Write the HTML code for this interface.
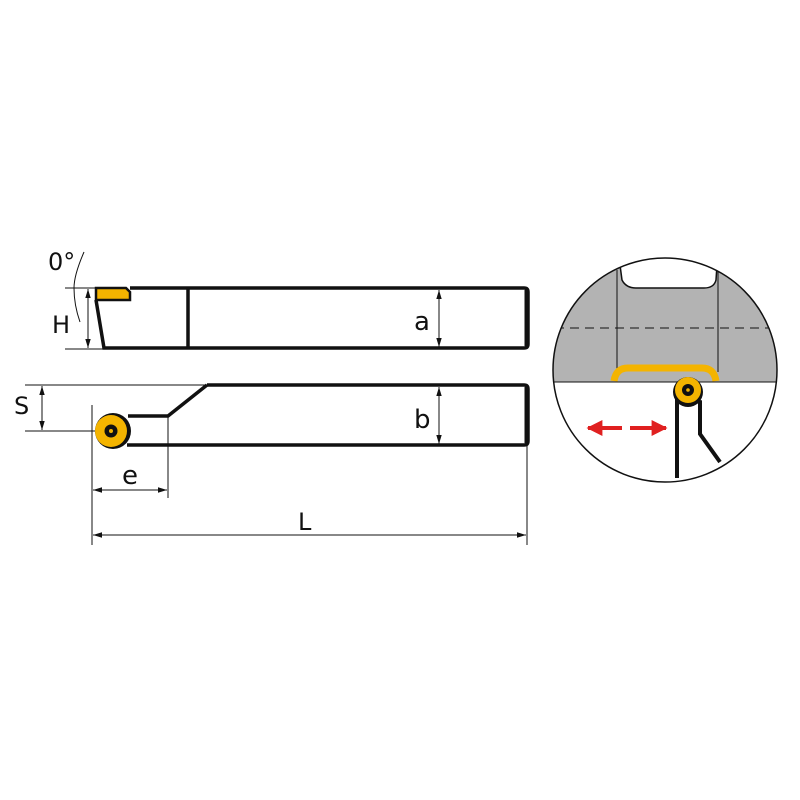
<!DOCTYPE html>
<html><head><style>body{margin:0;background:#fff}svg{display:block}text{font-family:"DejaVu Sans","Liberation Sans",sans-serif;fill:#111}</style></head><body>
<svg width="800" height="800" viewBox="0 0 800 800" xmlns="http://www.w3.org/2000/svg">
<defs>
<marker id="ar" viewBox="0 0 10 10" refX="10" refY="5" markerWidth="9" markerHeight="9" orient="auto-start-reverse"><path d="M0,2 L10,5 L0,8 z" fill="#111"/></marker>
<marker id="rr" viewBox="0 0 10 10" refX="9" refY="5" markerWidth="4" markerHeight="4" orient="auto-start-reverse"><path d="M0,0 L10,5 L0,10 z" fill="#e02020"/></marker>
<clipPath id="cc"><circle cx="665" cy="370" r="112"/></clipPath>
</defs>
<!-- top view -->
<g stroke="#111" fill="none">
<path d="M130,288 H524 Q528,288 528,292 V344 Q528,348 524,348 H104 L96,300" stroke-width="3.5"/>
<line x1="527" y1="290" x2="527" y2="346" stroke-width="5"/>
<line x1="188" y1="288" x2="188" y2="348" stroke-width="3.5"/>
<path d="M96,288 H126 L130,292 V300 H96 Z" fill="#f4b400" stroke-width="2.5"/>
<line x1="65" y1="288" x2="96" y2="288" stroke-width="1"/>
<line x1="65" y1="349" x2="104" y2="349" stroke-width="1"/>
<line x1="88" y1="289" x2="88" y2="348" stroke-width="1" marker-start="url(#ar)" marker-end="url(#ar)"/>
<path d="M84,252 Q74,275 74,288" stroke-width="1"/>
<path d="M74,288 Q74,305 80,322" stroke-width="1"/>
<line x1="439" y1="290" x2="439" y2="347" stroke-width="1" marker-start="url(#ar)" marker-end="url(#ar)"/>
</g>
<!-- bottom view -->
<g stroke="#111" fill="none">
<path d="M207,385 H524 Q528,385 528,389 V441 Q528,445 524,445 H127" stroke-width="3.5"/>
<line x1="527" y1="387" x2="527" y2="443" stroke-width="5"/>
<path d="M207,385 L168,416 H128" stroke-width="3.5"/>
<line x1="25" y1="385" x2="207" y2="385" stroke-width="1"/>
<line x1="25" y1="431" x2="100" y2="431" stroke-width="1"/>
<line x1="42" y1="386" x2="42" y2="430" stroke-width="1" marker-start="url(#ar)" marker-end="url(#ar)"/>
<line x1="439" y1="387" x2="439" y2="444" stroke-width="1" marker-start="url(#ar)" marker-end="url(#ar)"/>
<line x1="92" y1="405" x2="92" y2="545" stroke-width="1"/>
<line x1="168" y1="416" x2="168" y2="498" stroke-width="1"/>
<line x1="93" y1="490" x2="167" y2="490" stroke-width="1" marker-start="url(#ar)" marker-end="url(#ar)"/>
<line x1="527" y1="446" x2="527" y2="545" stroke-width="1"/>
<line x1="93" y1="535" x2="526" y2="535" stroke-width="1" marker-start="url(#ar)" marker-end="url(#ar)"/>
<circle cx="113" cy="431" r="18" fill="#111" stroke="none"/>
<circle cx="111" cy="431" r="16" fill="#f4b400" stroke="none"/>
<circle cx="111" cy="431" r="6.5" fill="#111" stroke="none"/>
<circle cx="111" cy="431" r="2" fill="#f4b400" stroke="none"/>
</g>
<text x="48" y="270" font-size="24">0°</text>
<text x="52" y="333" font-size="24">H</text>
<text x="14" y="414" font-size="24">S</text>
<text x="414" y="330" font-size="26">a</text>
<text x="414" y="428" font-size="26">b</text>
<text x="122" y="484" font-size="26">e</text>
<text x="298" y="530" font-size="24">L</text>
<!-- detail circle -->
<g clip-path="url(#cc)">
<rect x="550" y="250" width="230" height="132" fill="#b3b3b3"/>
<path d="M618,250 L622,280 Q626,288 636,288 H704 Q714,288 716,280 L718,250 Z" fill="#fff" stroke="#111" stroke-width="1.5"/>
<line x1="550" y1="382" x2="780" y2="382" stroke="#111" stroke-width="1"/>
<line x1="617" y1="270" x2="617" y2="372" stroke="#111" stroke-width="1"/>
<line x1="718" y1="270" x2="718" y2="372" stroke="#111" stroke-width="1"/>
<line x1="555" y1="328" x2="775" y2="328" stroke="#111" stroke-width="1" stroke-dasharray="9,6"/>
<path d="M614,381 Q616,368 628,368 H702 Q714,368 716,381" fill="none" stroke="#f4b400" stroke-width="7"/>
<path d="M677,478 V398 L700,402 V434 L720,462" fill="none" stroke="#111" stroke-width="4"/>
<circle cx="688" cy="392" r="15" fill="#111"/>
<circle cx="688" cy="390" r="13" fill="#f4b400"/>
<circle cx="688" cy="390" r="6" fill="#111"/>
<circle cx="688" cy="390" r="1.8" fill="#f4b400"/>
<line x1="588" y1="428" x2="622" y2="428" stroke="#e02020" stroke-width="4" marker-start="url(#rr)"/>
<line x1="630" y1="428" x2="666" y2="428" stroke="#e02020" stroke-width="4" marker-end="url(#rr)"/>
</g>
<circle cx="665" cy="370" r="112" fill="none" stroke="#111" stroke-width="1.5"/>
</svg>
</body></html>
